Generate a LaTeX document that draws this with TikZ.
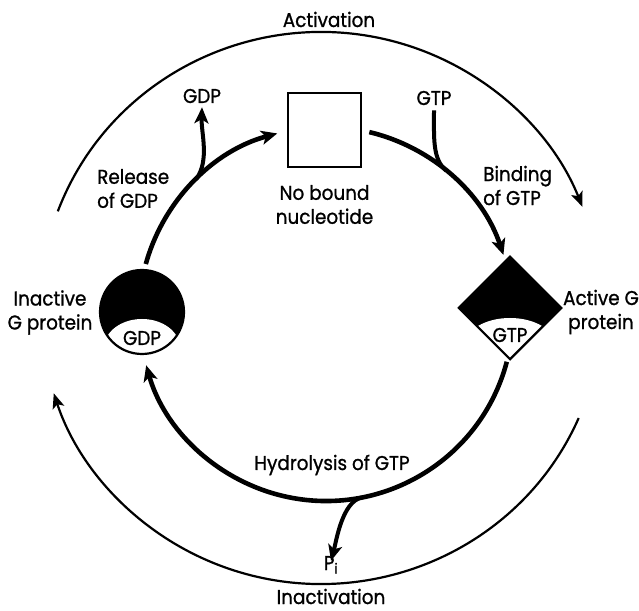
\documentclass[tikz,border=0pt]{standalone}
\usepackage{fontspec}
\setmainfont{Poppins}[FakeStretch=0.92,FakeBold=1]
\usetikzlibrary{arrows.meta,calc,shapes.geometric}
\begin{document}
\begin{tikzpicture}[x=1pt,y=1pt,
  font=\fontsize{20}{24}\selectfont,
  ring/.style={line width=4.6pt},
  branch/.style={line width=4pt},
  bigtip/.style={-{Stealth[length=16pt,width=14pt,inset=4pt]}},
  outer/.style={line width=2.2pt},
  thintip/.style={-{Stealth[length=15pt,width=12pt,inset=3.5pt]}},
  lbl/.style={inner sep=0pt, align=center},
  outline/.style={line width=2.2pt, line join=miter},
]
\useasboundingbox (0,0) rectangle (639,610);

% centres of the reaction cycle and of the outer activation loop
\coordinate (C) at (326,296);
\coordinate (O) at (321,302);

% --- states of the G protein ---
% inactive: black disc with GDP bound in the lower pocket
\node[circle, minimum size=84pt, inner sep=0pt, fill=black] (inact) at (142,298) {};
\begin{scope}
  \clip (inact.center) circle (42);
  \fill[white] (142,262) ellipse [x radius=38, y radius=29];
\end{scope}
\draw[outline] (inact.center) circle (42);
\node[lbl] (gdpin) at (142,265) [anchor=base] {GDP};

% empty: no nucleotide bound
\node[draw, outline, minimum width=73pt, minimum height=74pt, inner sep=0pt] (empty) at (324.5,480) {};

% active: black diamond with GTP bound
\node[diamond, minimum width=102pt, minimum height=102pt, inner sep=0pt, fill=black] (act) at (510,302) {};
\begin{scope}
  \clip (act.north) -- (act.east) -- (act.south) -- (act.west) -- cycle;
  \fill[white] (510,265) ellipse [x radius=45, y radius=27];
\end{scope}
\draw[outline] (act.north) -- (act.east) -- (act.south) -- (act.west) -- cycle;
\node[lbl] (gtpin) at (510,268) [anchor=base] {GTP};

% --- labels ---
\node[lbl, anchor=base] (activation) at (329,583) {Activation};
\node[lbl, anchor=base] (inactivation) at (331,6) {Inactivation};
\node[lbl] (inactlbl) at (50,297.5) {Inactive\\G protein};
\node[lbl] (actlbl) at (601,298) {Active G\\protein};
\node[lbl] (emptylbl) at (324.5,405.5) {No bound\\nucleotide};
\node[lbl, align=left, anchor=west] (release) at (97,421.5) {Release\\of GDP};
\node[lbl, align=left, anchor=west] (binding) at (483,424.5) {Binding\\of GTP};
\node[lbl, anchor=base] (hydro) at (332,140) {Hydrolysis of GTP};
\node[lbl, anchor=base] (gdpout) at (202,507) {GDP};
\node[lbl, anchor=base] (gtpinlbl) at (434,505) {GTP};
\node[lbl, anchor=base] (pi) at (331,40) {P\textsubscript{i}};

% --- points on the reaction cycle ---
\coordinate (r1) at ($(C)+(164.5:187)$);
\coordinate (r2) at ($(C)+(76.6:187)$);
\coordinate (r3) at ($(C)+(-14.8:187)$);
\coordinate (jgdp) at ($(C)+(134:187)$);
\coordinate (jgtp) at ($(C)+(50:187)$);
\coordinate (jpi) at ($(C)+(-79:187)$);

% inactive -> empty -> active -> inactive
\draw[ring, bigtip] (r1) arc[start angle=164.5, end angle=105.1, radius=187];
\draw[ring, bigtip] (r2) arc[start angle=76.6, end angle=18.4, radius=187];
\draw[ring, bigtip] (r3) arc[start angle=-14.8, end angle=-164.1, radius=187];

% nucleotides leaving and entering
\draw[branch, bigtip] (jgdp) .. controls +(55:24) and +(-92:26) .. ([yshift=-4pt]gdpout.south);
\draw[branch] ([yshift=-5pt]gtpinlbl.south) .. controls +(-90:28) and +(140:18) .. (jgtp);
\draw[branch, bigtip] (jpi) .. controls +(-168:20) and +(75:20) .. ([yshift=-5pt]pi.north);

% --- outer loop ---
\coordinate (o1) at ($(O)+(159.5:281 and 276)$);
\coordinate (o2) at ($(O)+(-23.5:281 and 276)$);
\draw[outer, thintip] (o1) arc[start angle=159.5, end angle=21.5, x radius=281, y radius=276];
\draw[outer, thintip] (o2) arc[start angle=-23.5, end angle=-162, x radius=281, y radius=276];
\end{tikzpicture}
\end{document}
